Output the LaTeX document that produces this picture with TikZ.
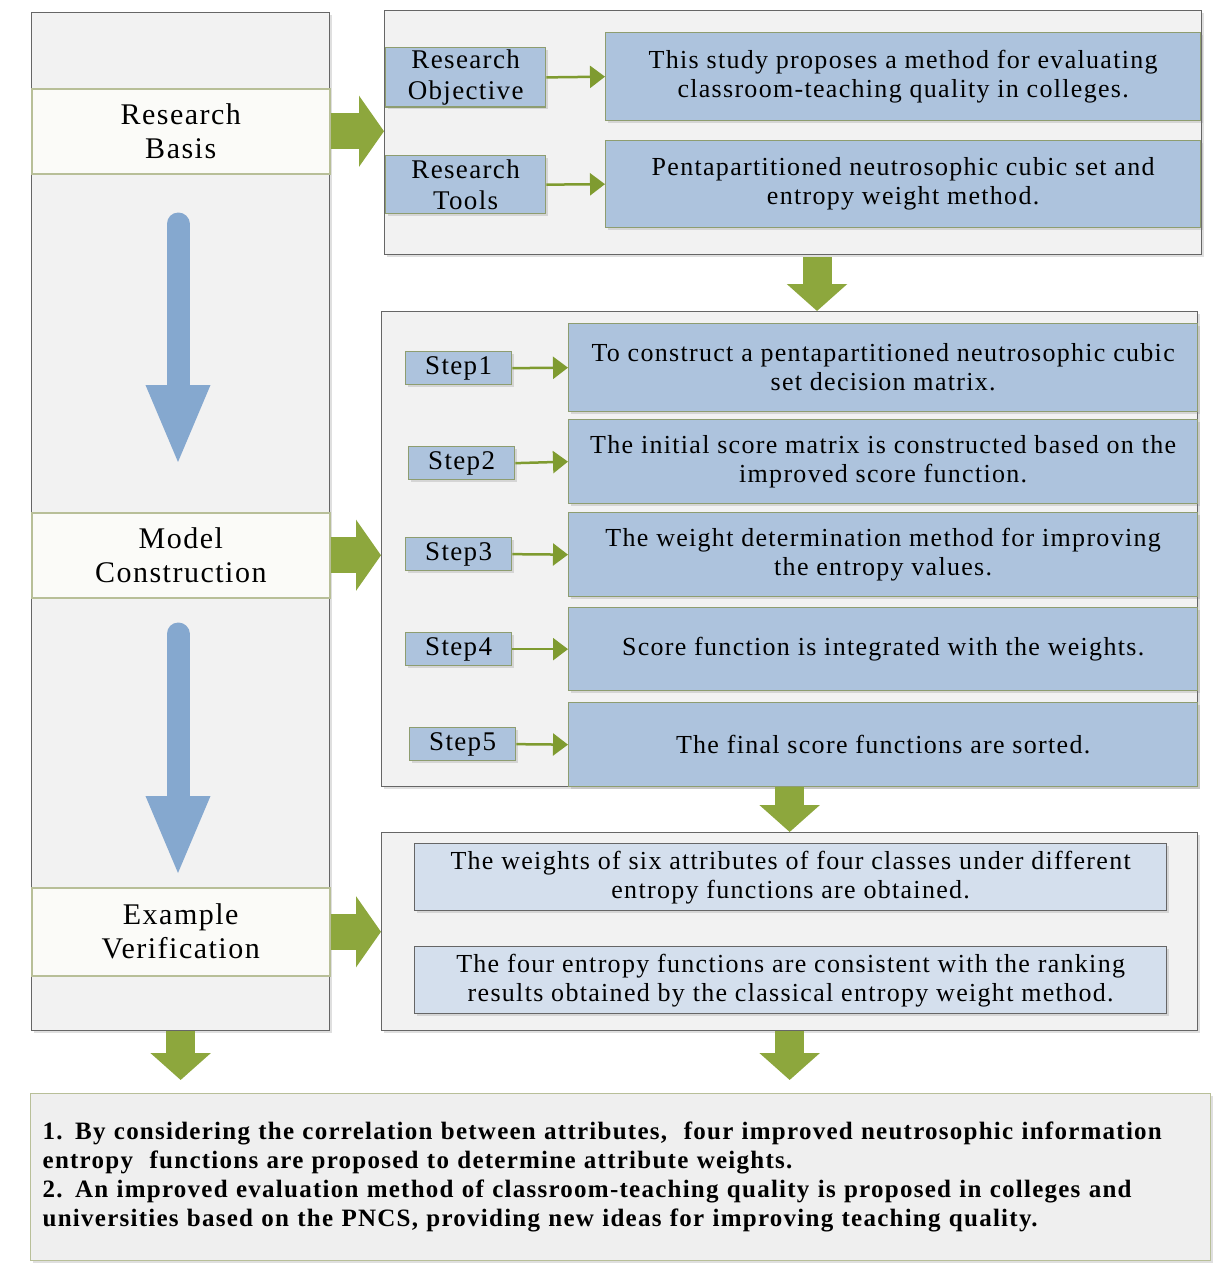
\documentclass[tikz,border=0pt]{standalone}
\usepackage{fontspec}
\setmainfont[LetterSpace=5]{Liberation Serif}
\usetikzlibrary{positioning,shadows,arrows.meta}

\definecolor{panelgray}{HTML}{F2F2F2}
\definecolor{framegray}{HTML}{666666}
\definecolor{bandline}{HTML}{B8BF98}
\definecolor{bandfill}{HTML}{FBFBF8}
\definecolor{tagblue}{HTML}{ADC3DD}
\definecolor{tagline}{HTML}{8E9D70}
\definecolor{paleblue}{HTML}{D4DFED}
\definecolor{leafgreen}{HTML}{8DA73D}
\definecolor{linkgreen}{HTML}{7F9B30}
\definecolor{flowblue}{HTML}{85A8CF}
\definecolor{endgray}{HTML}{EFEFEF}

\tikzset{
  soft/.style={drop shadow={opacity=0.25,shadow xshift=2pt,shadow yshift=-2pt}},
  panel/.style={draw=framegray,fill=panelgray,line width=1.3pt,soft,anchor=north west},
  band/.style={draw=bandline,fill=bandfill,line width=1.5pt,anchor=north west,
    align=center,font=\fontsize{30}{34}\selectfont},
  tag/.style={draw=tagline,fill=tagblue,line width=1.3pt,soft,anchor=north west,
    align=center,inner sep=2pt,font=\fontsize{27}{31}\selectfont},
  note/.style={draw=tagline,fill=tagblue,line width=1.3pt,soft,anchor=north west,
    align=center,font=\fontsize{26}{29}\selectfont},
  finding/.style={draw=framegray,fill=paleblue,line width=1.3pt,soft,anchor=north west,
    align=center,font=\fontsize{26}{29}\selectfont},
  link/.style={draw=linkgreen,line width=2.5pt,-{Triangle[length=15pt,width=22pt]}},
  push/.style={draw=leafgreen,line width=36pt,-{Triangle[length=25pt,width=70pt]}},
  drop/.style={draw=leafgreen,line width=29pt,-{Triangle[length=27pt,width=59pt]}},
  flow/.style={draw=flowblue,line width=23pt,line cap=round,-{Triangle[length=81pt,width=58pt]}}
}

\begin{document}
\begin{tikzpicture}[x=1pt,y=-1pt]
\useasboundingbox (0,0) rectangle (1231,1283);

% left column
\node[panel,minimum width=298pt,minimum height=1018pt] (column) at (31,12) {};
\node[band,minimum width=298pt,minimum height=85pt] (basis) at (31,88) {Research\\Basis};
\node[band,minimum width=298pt,minimum height=85pt] (model) at (31,512) {Model\\Construction};
\node[band,minimum width=298pt,minimum height=88pt] (example) at (31,887) {Example\\Verification};

\coordinate (flowA) at (178,224);
\coordinate (flowB) at (178,466);
\coordinate (flowC) at (178,634);
\coordinate (flowD) at (178,877);
\draw[flow] (flowA) -- (flowB);
\draw[flow] (flowC) -- (flowD);

% research basis
\node[panel,minimum width=817pt,minimum height=244pt] (basispanel) at (384,10) {};
\node[tag,minimum width=160pt,minimum height=58pt] (objective) at (385,47) {Research\\Objective};
\node[tag,minimum width=160pt,minimum height=58pt] (tools) at (385,155) {Research\\Tools};
\node[note,minimum width=595pt,minimum height=88pt] (aim) at (605,32)
  {This study proposes a method for evaluating\\classroom-teaching quality in colleges.};
\node[note,minimum width=595pt,minimum height=87pt] (means) at (605,140)
  {Pentapartitioned neutrosophic cubic set and\\entropy weight method.};
\draw[link] (objective.east) -- (aim.west);
\draw[link] (tools.east) -- (means.west);

% model construction
\node[panel,minimum width=816pt,minimum height=475pt] (stepspanel) at (381,311) {};
\node[tag,minimum width=106pt,minimum height=33pt] (step1) at (405,351) {Step1};
\node[tag,minimum width=106pt,minimum height=33pt] (step2) at (408,446) {Step2};
\node[tag,minimum width=106pt,minimum height=33pt] (step3) at (405,537) {Step3};
\node[tag,minimum width=106pt,minimum height=33pt] (step4) at (405,632) {Step4};
\node[tag,minimum width=106pt,minimum height=33pt] (step5) at (409,727) {Step5};
\node[note,minimum width=629pt,minimum height=88pt] (task1) at (568,323)
  {To construct a pentapartitioned neutrosophic cubic\\set decision matrix.};
\node[note,minimum width=629pt,minimum height=84pt] (task2) at (568,419)
  {The initial score matrix is constructed based on the\\improved score function.};
\node[note,minimum width=629pt,minimum height=84pt] (task3) at (568,512)
  {The weight determination method for improving\\the entropy values.};
\node[note,minimum width=629pt,minimum height=83pt] (task4) at (568,607)
  {Score function is integrated with the weights.};
\node[note,minimum width=629pt,minimum height=84pt] (task5) at (568,702)
  {The final score functions are sorted.};
\foreach \i in {1,...,5}
  \draw[link] (step\i.east) -- (task\i.west);

% example verification
\node[panel,minimum width=816pt,minimum height=198pt] (verifypanel) at (381,832) {};
\node[finding,minimum width=752pt,minimum height=67pt] (weights) at (414,843)
  {The weights of six attributes of four classes under different\\entropy functions are obtained.};
\node[finding,minimum width=752pt,minimum height=67pt] (ranking) at (414,946)
  {The four entropy functions are consistent with the ranking\\results obtained by the classical entropy weight method.};

% conclusion
\node[draw=bandline,fill=endgray,line width=1.3pt,soft,anchor=north west,
  minimum width=1180pt,minimum height=167pt,text width=1156pt,align=left,
  font=\bfseries\fontsize{25}{29}\selectfont] (conclusion) at (30,1093)
  {1. By considering the correlation between attributes,\ \ four improved neutrosophic information\\
   entropy\ \ functions are proposed to determine attribute weights.\\
   2. An improved evaluation method of classroom-teaching quality is proposed in colleges and\\
   universities based on the PNCS, providing new ideas for improving teaching quality.};

% block arrows
\draw[push] (basis.east) -- (basispanel.west |- basis.east);
\draw[push] (model.east) -- (stepspanel.west |- model.east);
\draw[push] (example.east) -- (verifypanel.west |- example.east);
\coordinate (dropA) at (817,257);
\draw[drop] (dropA) -- (dropA |- stepspanel.north);
\draw[drop] (stepspanel.south) -- (verifypanel.north);
\draw[drop,shorten >=13pt] (verifypanel.south) -- (verifypanel.south |- conclusion.north);
\draw[drop,shorten >=13pt] (column.south) -- (column.south |- conclusion.north);
\end{tikzpicture}
\end{document}
